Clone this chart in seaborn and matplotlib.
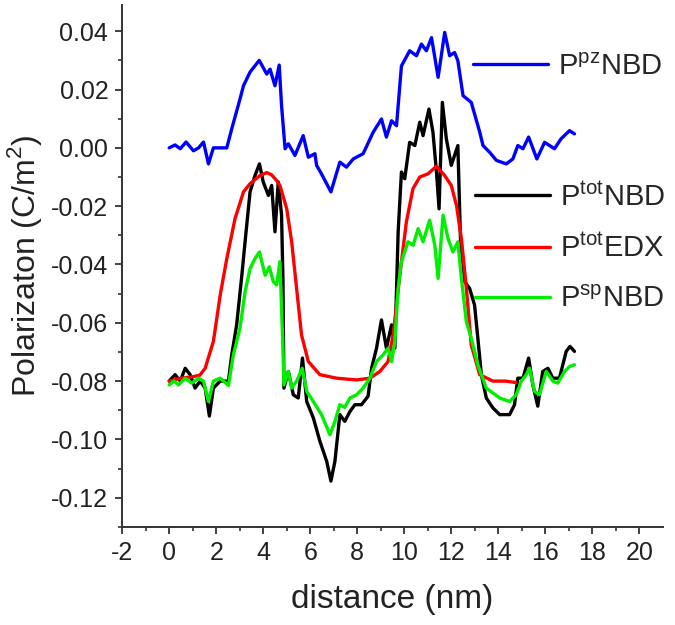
import matplotlib
matplotlib.use("Agg")
import matplotlib.pyplot as plt
import seaborn as sns

# ---- data ----
# P^pz NBD (blue)
pz_x = [0.0, 0.25, 0.47, 0.72, 1.03, 1.25, 1.46, 1.67, 1.88, 2.45, 2.66, 3.01, 3.16, 3.44, 3.83,
        4.15, 4.29, 4.50, 4.68, 4.78, 4.93, 5.07, 5.35, 5.70, 5.92, 6.2, 6.27, 6.45, 6.88, 7.26,
        7.54, 7.83, 8.25, 8.68, 9.03, 9.24, 9.46, 9.67, 9.81, 9.88, 10.23, 10.52, 10.73, 10.94,
        11.16, 11.44, 11.72, 11.93, 12.14, 12.28, 12.50, 12.85, 13.21, 13.35, 13.63, 13.92, 14.34,
        14.62, 14.83, 15.05, 15.29, 15.64, 15.97, 16.39, 16.67, 17.03, 17.24]
pz_y = [0.0, 0.001, -0.0003, 0.002, -0.001, 0.0, 0.002, -0.0055, 0.0, 0.0, 0.0065, 0.0167, 0.0213,
        0.026, 0.030, 0.0253, 0.027, 0.0213, 0.0284, 0.0145, -0.0003, 0.0014, -0.0026, 0.0042,
        -0.0032, -0.002, -0.006, -0.0085, -0.0151, -0.0049, -0.0066, -0.0038, -0.002, 0.0054,
        0.0099, 0.0037, 0.0093, 0.0076, 0.0213, 0.0281, 0.0333, 0.0316, 0.0356, 0.0333, 0.0378,
        0.0242, 0.0396, 0.0316, 0.0327, 0.0299, 0.0179, 0.0156, 0.0054, 0.0008, -0.0015, -0.0043,
        -0.0055, -0.0038, 0.0008, -0.0003, 0.0037, -0.0038, 0.0019, -0.0003, 0.0031, 0.0059, 0.0048]

# P^tot NBD (black)
tot_x = [0.0, 0.25, 0.47, 0.68, 0.89, 1.10, 1.32, 1.53, 1.71, 1.88, 2.17, 2.52, 2.66, 2.87, 3.09,
         3.27, 3.44, 3.65, 3.84, 4.0, 4.22, 4.36, 4.50, 4.64, 4.78, 4.84, 4.88, 5.07, 5.28, 5.49,
         5.67, 5.85, 6.13, 6.41, 6.7, 6.88, 7.05, 7.26, 7.47, 7.69, 7.90, 8.18, 8.46, 8.61, 8.82,
         9.03, 9.24, 9.46, 9.60, 9.74, 9.88, 10.02, 10.23, 10.45, 10.66, 10.80, 11.05, 11.22,
         11.37, 11.48, 11.62, 11.79, 12.0, 12.14, 12.28, 12.39, 12.57, 12.78, 12.99, 13.13, 13.28,
         13.49, 13.77, 14.06, 14.48, 14.69, 14.83, 15.05, 15.29, 15.47, 15.68, 15.89, 16.11, 16.32,
         16.6, 16.89, 17.05, 17.24]
tot_y = [-0.080, -0.0778, -0.080, -0.0756, -0.0778, -0.0824, -0.080, -0.0824, -0.092, -0.0824,
         -0.080, -0.080, -0.071, -0.0607, -0.0437, -0.0288, -0.0151, -0.0095, -0.0055, -0.0117,
         -0.0163, -0.0129, -0.0288, -0.0117, -0.0231, -0.0459, -0.0824, -0.0767, -0.0847, -0.0858,
         -0.0721, -0.087, -0.0926, -0.1006, -0.1075, -0.1143, -0.1075, -0.0915, -0.0938, -0.0904,
         -0.0881, -0.0881, -0.0852, -0.0756, -0.0687, -0.059, -0.0687, -0.0607, -0.0687, -0.0288,
         -0.0083, -0.0106, 0.0019, 0.0008, 0.0088, 0.0042, 0.0133, 0.0054, -0.0083, -0.0209, 0.0156,
         0.0031, -0.006, -0.0026, 0.0008, -0.0311, -0.0459, -0.0482, -0.0539, -0.0653, -0.0778,
         -0.0858, -0.0892, -0.0915, -0.0915, -0.0881, -0.079, -0.079, -0.0721, -0.0813, -0.0886,
         -0.0767, -0.0756, -0.079, -0.079, -0.0698, -0.0681, -0.0698]

# P^tot EDX (red)
edx_x = [0.0, 0.5, 1.0, 1.3, 1.53, 1.88, 2.17, 2.45, 2.80, 3.16, 3.44, 3.86, 4.15, 4.35, 4.57, 4.71,
         5.0, 5.21, 5.42, 5.63, 5.92, 6.41, 7.12, 7.97, 8.54, 8.96, 9.31, 9.53, 9.81, 10.09, 10.37,
         10.66, 11.01, 11.37, 11.72, 12.0, 12.22, 12.43, 12.64, 12.85, 13.21, 13.77, 14.3, 14.76]
edx_y = [-0.080, -0.079, -0.0785, -0.078, -0.0756, -0.0664, -0.0505, -0.038, -0.0243, -0.0151,
         -0.0123, -0.0095, -0.0085, -0.0092, -0.0112, -0.0129, -0.0209, -0.0322, -0.0482, -0.0642,
         -0.0733, -0.0778, -0.079, -0.0796, -0.079, -0.0767, -0.0733, -0.064, -0.0437, -0.0254,
         -0.014, -0.010, -0.0089, -0.0063, -0.0095, -0.0129, -0.0197, -0.0311, -0.048, -0.0676,
         -0.0778, -0.080, -0.080, -0.0805]

# P^sp NBD (green)
sp_x = [0.0, 0.2, 0.4, 0.68, 0.96, 1.25, 1.46, 1.67, 1.88, 2.17, 2.52, 2.73, 3.01, 3.23, 3.44, 3.65,
        3.84, 4.08, 4.26, 4.43, 4.57, 4.71, 4.83, 4.88, 5.07, 5.21, 5.42, 5.66, 5.85, 6.13, 6.48,
        6.84, 7.05, 7.26, 7.47, 7.69, 7.97, 8.25, 8.54, 8.82, 9.10, 9.31, 9.46, 9.60, 9.74, 9.88,
        10.16, 10.38, 10.59, 10.80, 11.08, 11.30, 11.44, 11.65, 11.86, 12.07, 12.28, 12.43, 12.64,
        12.85, 13.13, 13.49, 14.06, 14.48, 14.76, 14.98, 15.19, 15.33, 15.54, 15.75, 16.04, 16.32,
        16.53, 16.82, 17.03, 17.24]
sp_y = [-0.0813, -0.080, -0.0813, -0.079, -0.0807, -0.079, -0.080, -0.087, -0.080, -0.079, -0.0815,
        -0.071, -0.0619, -0.0493, -0.0414, -0.038, -0.0357, -0.0437, -0.0408, -0.0459, -0.047,
        -0.039, -0.0664, -0.0813, -0.0767, -0.0824, -0.080, -0.0756, -0.0835, -0.087, -0.0915,
        -0.0984, -0.0938, -0.0881, -0.089, -0.0858, -0.0847, -0.0824, -0.079, -0.0733, -0.071,
        -0.0687, -0.0733, -0.0664, -0.0482, -0.039, -0.0322, -0.0334, -0.0277, -0.0322, -0.0248,
        -0.0334, -0.0448, -0.0231, -0.0311, -0.0357, -0.0322, -0.0448, -0.0596, -0.0653, -0.0744,
        -0.0824, -0.0858, -0.087, -0.0847, -0.080, -0.0778, -0.0756, -0.0835, -0.0847, -0.0767,
        -0.080, -0.0807, -0.0767, -0.075, -0.0744]

labels = [r"P$^{\mathregular{pz}}$NBD", r"P$^{\mathregular{tot}}$NBD",
          r"P$^{\mathregular{tot}}$EDX", r"P$^{\mathregular{sp}}$NBD"]

sns.set_style("ticks")
plt.rcParams["font.family"] = ["Liberation Sans", "DejaVu Sans"]
plt.rcParams["axes.unicode_minus"] = False

fig = plt.figure(figsize=(6.75, 6.25), dpi=100)
ax = fig.add_axes([0.181, 0.157, 0.801, 0.835])

lw = 2.4
sns.lineplot(x=tot_x, y=tot_y, color="black", linewidth=lw, sort=False, ax=ax)
sns.lineplot(x=edx_x, y=edx_y, color="#ff0000", linewidth=lw, sort=False, ax=ax)
sns.lineplot(x=sp_x, y=sp_y, color="#00ee00", linewidth=lw, sort=False, ax=ax)
sns.lineplot(x=pz_x, y=pz_y, color="#0000ff", linewidth=lw, sort=False, ax=ax)
lines = ax.get_lines()

ax.set_xlim(-2, 21)
ax.set_ylim(-0.130, 0.049)
ax.set_xticks(range(-2, 21, 2))
ax.set_xticks(range(-1, 21, 2), minor=True)
ax.set_yticks([0.04, 0.02, 0.0, -0.02, -0.04, -0.06, -0.08, -0.10, -0.12])
ax.set_yticks([0.03, 0.01, -0.01, -0.03, -0.05, -0.07, -0.09, -0.11, -0.13], minor=True)
ax.yaxis.set_major_formatter(matplotlib.ticker.FormatStrFormatter("%.2f"))

for s in ["top", "right"]:
    ax.spines[s].set_visible(False)
for s in ["left", "bottom"]:
    ax.spines[s].set_linewidth(1.4)
    ax.spines[s].set_color("#333333")
ax.tick_params(which="major", direction="out", length=5, width=1.3, color="#333333",
               labelsize=18, labelcolor="#222222", pad=5)
ax.tick_params(which="minor", direction="out", length=3, width=1.2, color="#333333")

ax.set_xlabel("distance (nm)", fontsize=24, color="#222222", labelpad=14)
ax.set_ylabel(r"Polarizaton (C/m$^{\mathregular{2}}$)", fontsize=23, color="#222222", labelpad=5)

leg1 = ax.legend([lines[3]], [labels[0]], loc="center left", bbox_to_anchor=(0.649, 0.882),
                 frameon=False, fontsize=21, handlelength=2.57, handletextpad=0.34,
                 borderpad=0, borderaxespad=0)
ax.add_artist(leg1)
ax.legend([lines[0], lines[1], lines[2]], labels[1:], loc="center left",
          bbox_to_anchor=(0.652, 0.535), frameon=False, fontsize=21, handlelength=2.57,
          handletextpad=0.34, borderpad=0, borderaxespad=0, labelspacing=0.76)

fig.savefig("out.png", dpi=100)
